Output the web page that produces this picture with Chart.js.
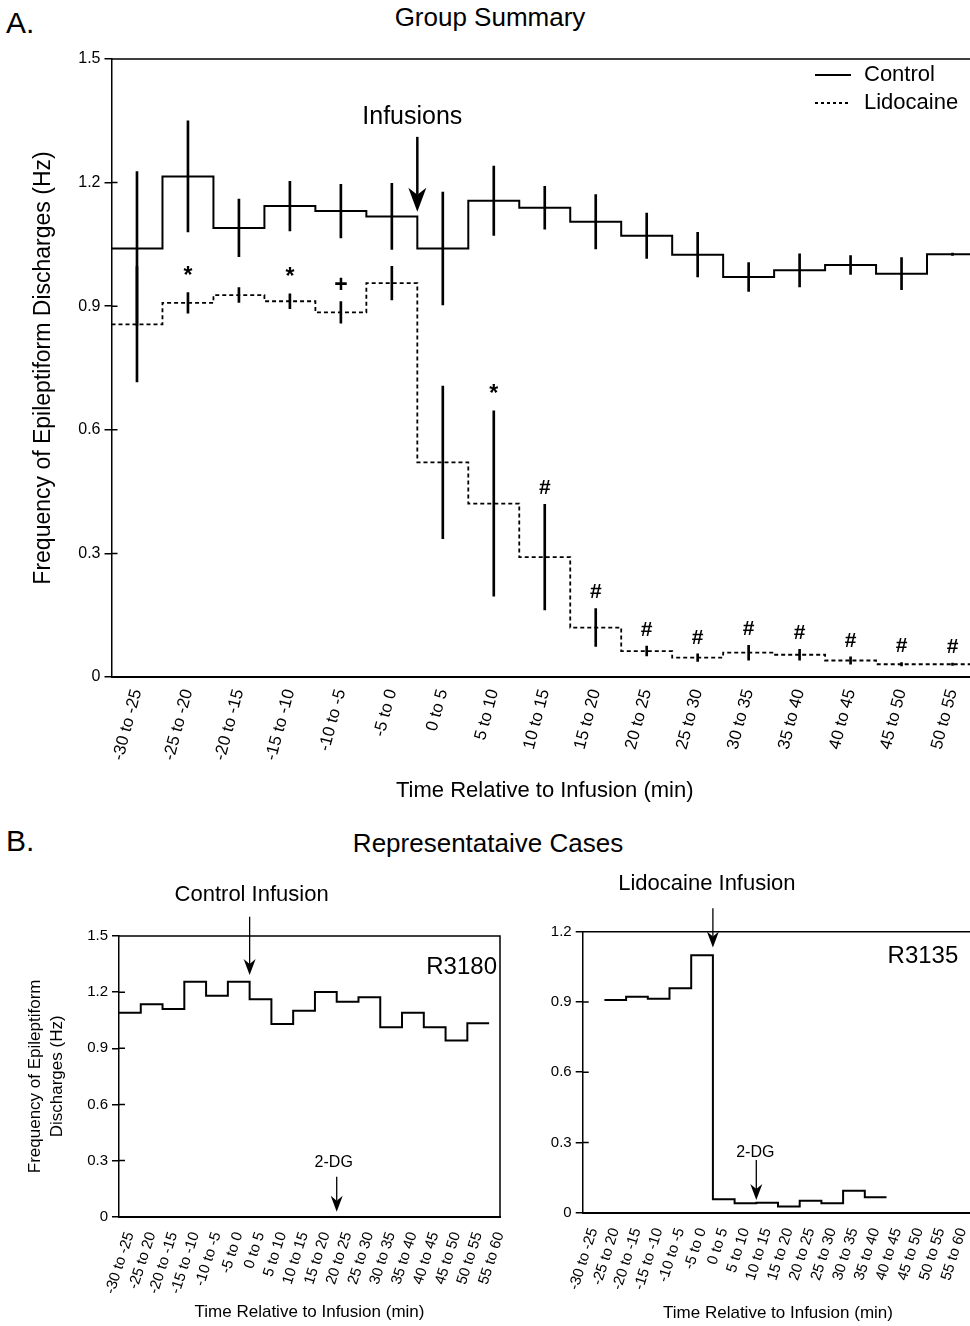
<!DOCTYPE html>
<html lang="en">
<head>
<meta charset="UTF-8">
<title>Group Summary and Representative Cases</title>
<script src="https://cdn.jsdelivr.net/npm/chart.js@4.4.1/dist/chart.umd.min.js"></script>
<style>
  html, body { margin: 0; padding: 0; background: #fff; }
  body { width: 970px; height: 1326px; position: relative; overflow: hidden;
         font-family: "Liberation Sans", Arial, sans-serif; color: #000; }
  .lbl { position: absolute; white-space: nowrap; line-height: 1; }
  canvas { position: absolute; }
</style>
</head>
<body>

<div class="lbl" style="left:6px; top:8px; font-size:30px;">A.</div>
<div class="lbl" style="left:490px; top:4px; font-size:26px; transform:translateX(-50%);">Group Summary</div>
<div class="lbl" style="left:6px; top:826px; font-size:30px;">B.</div>
<div class="lbl" style="left:488px; top:830px; font-size:26px; transform:translateX(-50%);">Representataive Cases</div>

<canvas id="chartA" width="1000" height="820" style="left:0; top:0;"></canvas>
<canvas id="chartB" width="520" height="456" style="left:0; top:870px;"></canvas>
<canvas id="chartC" width="480" height="456" style="left:500px; top:870px;"></canvas>

<script>
// ---- Panel A: group summary (5-min bins) ----
const xLabelsA = ['-30 to -25', '-25 to -20', '-20 to -15', '-15 to -10', '-10 to -5', '-5 to 0',
                  '0 to 5', '5 to 10', '10 to 15', '15 to 20', '20 to 25', '25 to 30', '30 to 35',
                  '35 to 40', '40 to 45', '45 to 50', '50 to 55'];
const binStartsA = [-30, -25, -20, -15, -10, -5, 0, 5, 10, 15, 20, 25, 30, 35, 40, 45, 50];
const binCentersA = [-27.5, -22.5, -17.5, -12.5, -7.5, -2.5, 2.5, 7.5, 12.5, 17.5, 22.5, 27.5, 32.5,
                     37.5, 42.5, 47.5, 52.5];
const binEndA = 55;
const controlMean = [1.04, 1.215, 1.09, 1.143, 1.131, 1.118, 1.04, 1.156, 1.139, 1.105, 1.071, 1.025,
                     0.971, 0.987, 1.0, 0.979, 1.026];
const controlSem = [0.187, 0.135, 0.07, 0.06, 0.065, 0.08, 0.137, 0.084, 0.052, 0.066, 0.055, 0.054,
                    0.035, 0.04, 0.023, 0.039, 0.003];
const lidoMean = [0.856, 0.908, 0.927, 0.912, 0.885, 0.956, 0.521, 0.421, 0.291, 0.12, 0.063, 0.047,
                  0.059, 0.054, 0.04, 0.031, 0.031];
const lidoSem = [0.14, 0.025, 0.018, 0.018, 0.026, 0.041, 0.185, 0.225, 0.128, 0.046, 0.012, 0.009,
                 0.018, 0.013, 0.009, 0.004, 0.003];
const lidoSig = ['', '*', '', '*', '+', '', '', '*', '#', '#', '#', '#', '#', '#', '#', '#', '#'];
const yTicksA = [0, 0.3, 0.6, 0.9, 1.2, 1.5];
const yTickLabelsA = ['0', '0.3', '0.6', '0.9', '1.2', '1.5'];

// ---- Panel B: representative cases ----
const xLabelsB = ['-30 to -25', '-25 to 20', '-20 to -15', '-15 to -10', '-10 to -5', '-5 to 0',
                  '0 to 5', '5 to 10', '10 to 15', '15 to 20', '20 to 25', '25 to 30', '30 to 35',
                  '35 to 40', '40 to 45', '45 to 50', '50 to 55', '55 to 60'];
const tickPosB = [-27.5, -22.5, -17.5, -12.5, -7.5, -2.5, 2.5, 7.5, 12.5, 17.5, 22.5, 27.5, 32.5,
                  37.5, 42.5, 47.5, 52.5, 57.5];
const caseCtrlStarts = [-30, -25, -20, -15, -10, -5, 0, 5, 10, 15, 20, 25, 30, 35, 40, 45, 50];
const caseCtrlValues = [1.09, 1.135, 1.11, 1.256, 1.181, 1.256, 1.162, 1.03, 1.101, 1.201, 1.149,
                        1.173, 1.012, 1.09, 1.012, 0.941, 1.034];
const caseCtrlEnd = 55;
const caseLidoStarts = [-25, -20, -15, -10, -5, 0, 5, 10, 15, 20, 25, 30, 35];
const caseLidoValues = [0.908, 0.922, 0.914, 0.959, 1.099, 0.057, 0.04, 0.043, 0.026, 0.051, 0.04,
                        0.094, 0.066];
const caseLidoEnd = 40;
const yTicksB = [0, 0.3, 0.6, 0.9, 1.2, 1.5];
const yTickLabelsB = ['0', '0.3', '0.6', '0.9', '1.2', '1.5'];
const yTicksC = [0, 0.3, 0.6, 0.9, 1.2];
const yTickLabelsC = ['0', '0.3', '0.6', '0.9', '1.2'];

Chart.defaults.font.family = "'Liberation Sans', Arial, sans-serif";
Chart.defaults.color = '#000';

// step line: one point per bin start plus the closing edge of the last bin
function stepPoints(starts, values, end) {
    const pts = starts.map((x, i) => ({ x: x, y: values[i] }));
    pts.push({ x: end, y: values[values.length - 1] });
    return pts;
}

function errorBars(centers, mean, sem) {
    return centers.map((x, i) => ({ x: x, y: [mean[i] - sem[i], mean[i] + sem[i]] }));
}

function drawArrow(ctx, x, y0, y1, shaft, headW, headL, notch) {
    ctx.save();
    ctx.strokeStyle = '#000';
    ctx.fillStyle = '#000';
    ctx.lineWidth = shaft;
    ctx.beginPath();
    ctx.moveTo(x, y0);
    ctx.lineTo(x, y1 - headL + notch);
    ctx.stroke();
    ctx.beginPath();
    ctx.moveTo(x, y1);
    ctx.lineTo(x - headW / 2, y1 - headL);
    ctx.lineTo(x, y1 - headL + notch);
    ctx.lineTo(x + headW / 2, y1 - headL);
    ctx.closePath();
    ctx.fill();
    ctx.restore();
}

function drawText(ctx, text, x, y, font, align) {
    ctx.save();
    ctx.font = font;
    ctx.fillStyle = '#000';
    ctx.textAlign = align || 'center';
    ctx.textBaseline = 'middle';
    ctx.fillText(text, x, y);
    ctx.restore();
}

// top/right frame lines and inner y ticks
function drawFrame(chart, withRight) {
    const ctx = chart.ctx;
    const a = chart.chartArea;
    const y = chart.scales.y;
    ctx.save();
    ctx.strokeStyle = '#000';
    ctx.lineWidth = 1.5;
    ctx.beginPath();
    ctx.moveTo(a.left, a.top);
    ctx.lineTo(a.right, a.top);
    if (withRight) ctx.lineTo(a.right, a.bottom);
    y.ticks.forEach(t => {
        const py = y.getPixelForValue(t.value);
        ctx.moveTo(a.left, py);
        ctx.lineTo(a.left + 6, py);
    });
    ctx.stroke();
    ctx.restore();
}

function linearX(min, max, tickValues, labels, fontSize, rotation, padding, height, title, titleSize, titleBottom) {
    return {
        type: 'linear', min: min, max: max, offset: false,
        afterBuildTicks: s => { s.ticks = tickValues.map(v => ({ value: v })); },
        afterFit: s => { s.height = height; s.paddingLeft = 0; s.paddingRight = 0; },
        ticks: { autoSkip: false, minRotation: rotation, maxRotation: rotation, padding: padding,
                 font: { size: fontSize }, callback: (v, i) => labels[i] },
        grid: { display: false, drawTicks: false },
        border: { display: true, color: '#000', width: 2 },
        title: { display: true, text: title, font: { size: titleSize },
                 padding: { top: 0, bottom: titleBottom } }
    };
}

function linearY(max, tickValues, labels, fontSize, width, title) {
    return {
        type: 'linear', min: 0, max: max,
        afterBuildTicks: s => { s.ticks = tickValues.map(v => ({ value: v })); },
        afterFit: s => { s.width = width; s.paddingTop = 0; s.paddingBottom = 0; },
        ticks: { font: { size: fontSize }, padding: 4, callback: (v, i) => labels[i] },
        grid: { drawOnChartArea: false, color: '#000', lineWidth: 1.5, tickLength: 7 },
        border: { color: '#000', width: 1.5 },
        title: title
    };
}

const commonOpts = {
    responsive: false,
    animation: false,
    events: [],
    plugins: { legend: { display: false }, tooltip: { enabled: false } }
};

// ---------- Panel A ----------
const panelAPlugin = {
    id: 'panelA',
    afterDraw(chart) {
        const ctx = chart.ctx;
        const a = chart.chartArea;
        const x = chart.scales.x, y = chart.scales.y;
        drawFrame(chart, false);

        // significance marks above lidocaine error bars
        lidoSig.forEach((s, i) => {
            if (!s) return;
            const px = x.getPixelForValue(binCentersA[i]);
            const py = y.getPixelForValue(lidoMean[i] + lidoSem[i]) - 16;
            const size = s === '#' ? 21 : 23;
            drawText(ctx, s, px, py, 'bold ' + size + 'px "Liberation Sans", Arial, sans-serif');
        });

        // infusion marker
        const x0 = x.getPixelForValue(0);
        drawText(ctx, 'Infusions', x0 - 5, y.getPixelForValue(1.36), '25px "Liberation Sans", Arial, sans-serif');
        drawArrow(ctx, x0, y.getPixelForValue(1.311), y.getPixelForValue(1.129), 2.5, 18, 24, 7);

        // legend
        const lf = '22px "Liberation Sans", Arial, sans-serif';
        ctx.save();
        ctx.strokeStyle = '#000';
        ctx.lineWidth = 1.8;
        ctx.beginPath();
        ctx.moveTo(a.right - 163, a.top + 16);
        ctx.lineTo(a.right - 127, a.top + 16);
        ctx.stroke();
        ctx.setLineDash([3, 3]);
        ctx.beginPath();
        ctx.moveTo(a.right - 163, a.top + 44);
        ctx.lineTo(a.right - 127, a.top + 44);
        ctx.stroke();
        ctx.restore();
        drawText(ctx, 'Control', a.right - 114, a.top + 16, lf, 'left');
        drawText(ctx, 'Lidocaine', a.right - 114, a.top + 44, lf, 'left');
    }
};

new Chart(document.getElementById('chartA'), {
    type: 'line',
    data: {
        datasets: [
            { label: 'Control', data: stepPoints(binStartsA, controlMean, binEndA), stepped: true,
              borderColor: '#000', borderWidth: 2, pointRadius: 0, fill: false },
            { label: 'Lidocaine', data: stepPoints(binStartsA, lidoMean, binEndA), stepped: true,
              borderColor: '#000', borderWidth: 1.8, borderDash: [4, 3], pointRadius: 0, fill: false },
            { type: 'bar', label: 'Control SEM', data: errorBars(binCentersA, controlMean, controlSem),
              backgroundColor: '#000', barThickness: 2, grouped: false },
            { type: 'bar', label: 'Lidocaine SEM', data: errorBars(binCentersA, lidoMean, lidoSem),
              backgroundColor: '#000', barThickness: 2, grouped: false }
        ]
    },
    options: Object.assign({}, commonOpts, {
        layout: { padding: { left: 0, top: 59, right: 22, bottom: 0 } },
        scales: {
            x: linearX(-30, 55, binCentersA, xLabelsA, 17, 75, 10, 143,
                       'Time Relative to Infusion (min)', 22, 16),
            y: linearY(1.5, yTicksA, yTickLabelsA, 16, 111.5,
                       { display: true, text: 'Frequency of Epileptiform Discharges (Hz)',
                         font: { size: 23 }, padding: { top: 30, bottom: 0 } })
        }
    }),
    plugins: [panelAPlugin]
});

// ---------- Panel B, left: control case ----------
const panelBPlugin = {
    id: 'panelB',
    afterDraw(chart) {
        const ctx = chart.ctx;
        const a = chart.chartArea;
        const x = chart.scales.x, y = chart.scales.y;
        drawFrame(chart, true);
        const x0 = x.getPixelForValue(0);
        drawText(ctx, 'Control Infusion', x0 + 2, y.getPixelForValue(1.719), '22px "Liberation Sans", Arial, sans-serif');
        drawArrow(ctx, x0, y.getPixelForValue(1.603), y.getPixelForValue(1.292), 1.3, 12, 16, 5);
        const x2 = x.getPixelForValue(20);
        drawText(ctx, '2-DG', x2 - 3, y.getPixelForValue(0.287), '16px "Liberation Sans", Arial, sans-serif');
        drawArrow(ctx, x2, y.getPixelForValue(0.214), y.getPixelForValue(0.027), 1.3, 12, 16, 5);
        drawText(ctx, 'R3180', a.right - 3, a.top + 31, '24px "Liberation Sans", Arial, sans-serif', 'right');
    }
};

new Chart(document.getElementById('chartB'), {
    type: 'line',
    data: {
        datasets: [
            { label: 'R3180', data: stepPoints(caseCtrlStarts, caseCtrlValues, caseCtrlEnd), stepped: true,
              borderColor: '#000', borderWidth: 2, pointRadius: 0, fill: false }
        ]
    },
    options: Object.assign({}, commonOpts, {
        layout: { padding: { left: 0, top: 66, right: 20, bottom: 0 } },
        scales: {
            x: linearX(-30, 57.5, tickPosB, xLabelsB, 15, 72, 13, 109.3,
                       'Time Relative to Infusion (min)', 17, 3),
            y: linearY(1.5, yTicksB, yTickLabelsB, 15, 119,
                       { display: true, text: ['Frequency of Epileptiform', 'Discharges (Hz)'],
                         font: { size: 17, lineHeight: 1.25 }, padding: { top: 25, bottom: 0 } })
        }
    }),
    plugins: [panelBPlugin]
});

// ---------- Panel B, right: lidocaine case ----------
const panelCPlugin = {
    id: 'panelC',
    afterDraw(chart) {
        const ctx = chart.ctx;
        const a = chart.chartArea;
        const x = chart.scales.x, y = chart.scales.y;
        drawFrame(chart, false);
        const x0 = x.getPixelForValue(0);
        drawText(ctx, 'Lidocaine Infusion', x0 - 6, y.getPixelForValue(1.406), '22px "Liberation Sans", Arial, sans-serif');
        drawArrow(ctx, x0, y.getPixelForValue(1.30), y.getPixelForValue(1.133), 1.3, 12, 16, 5);
        const x2 = x.getPixelForValue(10);
        drawText(ctx, '2-DG', x2 - 1, y.getPixelForValue(0.256), '16px "Liberation Sans", Arial, sans-serif');
        drawArrow(ctx, x2, y.getPixelForValue(0.225), y.getPixelForValue(0.054), 1.3, 12, 16, 5);
        drawText(ctx, 'R3135', a.right - 15, a.top + 25, '24px "Liberation Sans", Arial, sans-serif', 'right');
    }
};

new Chart(document.getElementById('chartC'), {
    type: 'line',
    data: {
        datasets: [
            { label: 'R3135', data: stepPoints(caseLidoStarts, caseLidoValues, caseLidoEnd), stepped: true,
              borderColor: '#000', borderWidth: 2, pointRadius: 0, fill: false }
        ]
    },
    options: Object.assign({}, commonOpts, {
        layout: { padding: { left: 0, top: 61.7, right: 6.7, bottom: 0 } },
        scales: {
            x: linearX(-30, 60, tickPosB, xLabelsB, 15, 72, 13, 113.3,
                       'Time Relative to Infusion (min)', 17, 2),
            y: linearY(1.2, yTicksC, yTickLabelsC, 15, 82.7, { display: false })
        }
    }),
    plugins: [panelCPlugin]
});
</script>
</body>
</html>
